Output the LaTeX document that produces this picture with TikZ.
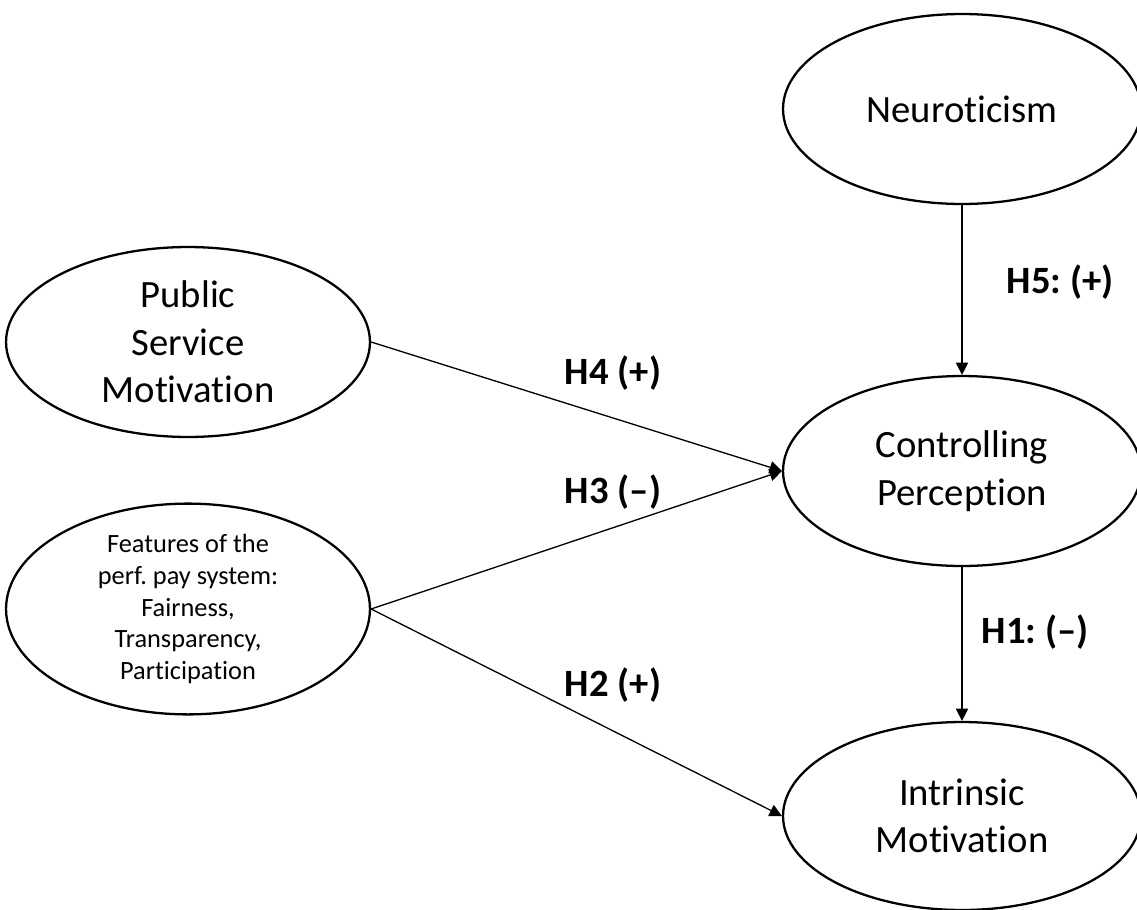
\documentclass[tikz,border=0pt]{standalone}
\usepackage{fontspec}
\setmainfont{Carlito}[Ligatures=NoCommon]
\usetikzlibrary{arrows.meta,shapes.geometric}
\frenchspacing

\begin{document}
\begin{tikzpicture}[
  x=0.02cm,y=-0.02cm,
  every node/.style={font=\fontsize{22}{27}\selectfont},
  latent/.style={draw=black,ellipse,line width=1.3pt,inner sep=0pt,minimum width=7.16cm,minimum height=3.8cm,align=center},
  hyp/.style={font=\fontsize{22}{27}\selectfont\bfseries},
  arrow/.style={-{Triangle[length=7pt,width=7pt]},line width=0.75pt,draw=black}
]
\useasboundingbox (0,0) rectangle (1137,910);
\clip (0,0) rectangle (1137,910);
\node[latent] (neuro) at (962,109) {Neuroticism};
\node[latent] (ctrl) at (962,471) {Controlling\\Perception};
\node[latent,minimum height=3.76cm] (intr) at (962,816) {Intrinsic\\Motivation};
\node[latent,minimum width=7.28cm] (psm) at (188,342) {Public\\Service\\Motivation};
\node[latent,minimum width=7.28cm,font=\fontsize{15}{18}\selectfont] (feat) at (188,609) {Features of the\\perf. pay system:\\Fairness,\\Transparency,\\Participation};
\draw[arrow] (neuro)--(ctrl);
\draw[arrow] (ctrl)--(intr);
\draw[arrow] (psm.east)--(ctrl.west);
\draw[arrow] (feat.east)--(ctrl.west);
\draw[arrow] (feat.east)--(intr.west);
\node[hyp] (h5) at (1060,282) {H5: (+)};
\node[hyp] (h4) at (613,373) {H4 (+)};
\node[hyp] (h3) at (613,492) {H3 (--)};
\node[hyp] (h1) at (1035,632) {H1: (--)};
\node[hyp] (h2) at (613,685) {H2 (+)};
\end{tikzpicture}
\end{document}
